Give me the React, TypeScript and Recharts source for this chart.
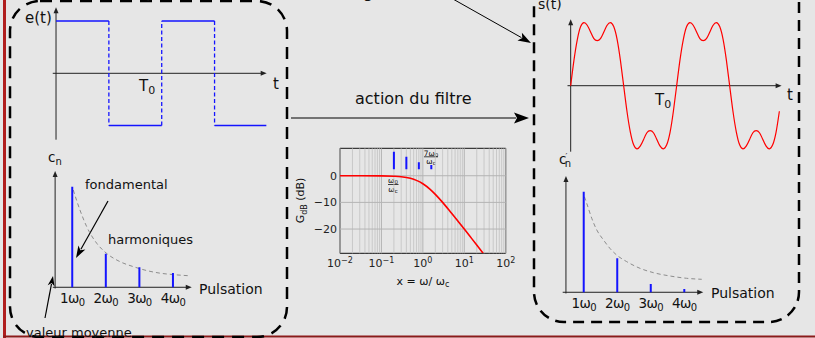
import React from 'react';
import { LineChart, ComposedChart, Line, XAxis, YAxis, ReferenceLine, ReferenceArea } from 'recharts';

const W = 815;
const H = 338;
const FONT = '"DejaVu Sans", sans-serif';
const BLUE = '#1414ff';
const RED = '#ff0000';
const AXIS = '#222222';

// ---------- e(t): square wave (t in units of T0) ----------
const squareEdges = [0, 0.5, 1, 1.5, 1.99];
const squareLevels = [1, -1, 1, -1];

// ---------- s(t): filtered signal (t in units of T0) ----------
const sT = [
  0, 0.031, 0.063, 0.094, 0.125, 0.156, 0.188, 0.219, 0.25, 0.281, 0.313, 0.344, 0.375, 0.406, 0.438, 0.469,
  0.5, 0.531, 0.563, 0.594, 0.625, 0.656, 0.688, 0.719, 0.75, 0.781, 0.813, 0.844, 0.875, 0.906, 0.938, 0.969,
  1, 1.031, 1.063, 1.094, 1.125, 1.156, 1.188, 1.219, 1.25, 1.281, 1.313, 1.344, 1.375, 1.406, 1.438, 1.469,
  1.5, 1.531, 1.563, 1.594, 1.625, 1.656, 1.688, 1.719, 1.75, 1.781, 1.813, 1.844, 1.875, 1.906, 1.938, 1.969,
];
const sV = [
  0, 0.38, 0.69, 0.88, 0.94, 0.9, 0.8, 0.7, 0.67, 0.7, 0.8, 0.9, 0.94, 0.88, 0.69, 0.38,
  0, -0.38, -0.69, -0.88, -0.94, -0.9, -0.8, -0.7, -0.67, -0.7, -0.8, -0.9, -0.94, -0.88, -0.69, -0.38,
  0, 0.38, 0.69, 0.88, 0.94, 0.9, 0.8, 0.7, 0.67, 0.7, 0.8, 0.9, 0.94, 0.88, 0.69, 0.38,
  0, -0.38, -0.69, -0.88, -0.94, -0.9, -0.8, -0.7, -0.67, -0.7, -0.8, -0.9, -0.94, -0.88, -0.69, -0.38,
];

// ---------- spectra ----------
const harmonicOrders = [1, 2, 3, 4];
const omegaTickLabels = ['1', '2', '3', '4'];
const cnAmplitudes = [1, 0.333, 0.2, 0.143];
const cnEnvelopeW = [1.03, 1.23, 1.43, 1.73, 2.02, 2.42, 2.82, 3.22, 3.62, 4.01, 4.51];
const cnEnvelopeV = [0.967, 0.768, 0.603, 0.437, 0.338, 0.255, 0.205, 0.166, 0.14, 0.126, 0.114];
const cpAmplitudes = [1, 0.338, 0.083, 0.033];
const cpEnvelopeW = [1.02, 1.09, 1.24, 1.39, 1.59, 1.78, 1.98, 2.28, 2.68, 3.08, 3.57, 4.07, 4.52];
const cpEnvelopeV = [0.95, 0.884, 0.735, 0.619, 0.52, 0.437, 0.371, 0.305, 0.238, 0.195, 0.162, 0.139, 0.129];

// ---------- Bode plot ----------
const bodeX = [0.01, 0.1, 0.2, 0.3, 0.5, 0.7, 1, 1.5, 2, 3, 5, 7, 10, 15, 20, 28.5];
const bodeDb = [0, -0.04, -0.17, -0.37, -0.97, -1.74, -3.0, -5.1, -7.0, -10.0, -14.2, -17.0, -20.0, -23.5, -26.0, -29.1];
const bodeHarmX = [0.2, 0.4, 0.8, 1.6];
const bodeHarmTop = [9.0, 7.1, 5.1, 4.0];
const bodeHarmBase = 2.4;
const bodeDecades = [0.01, 0.1, 1, 10, 100];
const bodeDecadeExp = ['\u22122', '\u22121', '0', '1', '2'];
const bodeMinorMult = [2, 3, 4, 5, 6, 7, 8, 9];
const bodeYTicks = [-20, -10, 0];
const bodeYDomain = [-29.1, 10.3];

// ---------- helpers ----------
const zip = (xs: number[], ys: number[]) => xs.map((x, i) => ({ x, y: ys[i] }));

const stemData = (xs: number[], tops: number[], base: number) => {
  const out: any[] = [];
  xs.forEach((x, i) => {
    out.push({ x, y: base });
    out.push({ x, y: tops[i] });
    out.push({ x, y: null });
  });
  return out;
};

const squareSolid = (() => {
  const out: any[] = [];
  squareLevels.forEach((lv, i) => {
    out.push({ x: squareEdges[i], y: lv });
    out.push({ x: squareEdges[i + 1], y: lv });
    out.push({ x: squareEdges[i + 1], y: null });
  });
  return out;
})();

const squareDashed = (() => {
  const out: any[] = [];
  for (let i = 1; i < squareLevels.length; i++) {
    out.push({ x: squareEdges[i], y: squareLevels[i - 1] });
    out.push({ x: squareEdges[i], y: squareLevels[i] });
    out.push({ x: squareEdges[i], y: null });
  }
  return out;
})();

const axisArrow = (head: number, half: number) => (p: any) => {
  const { x1, y1, x2, y2 } = p;
  const dx = x2 - x1;
  const dy = y2 - y1;
  const len = Math.hypot(dx, dy) || 1;
  const ux = dx / len;
  const uy = dy / len;
  const bx = x2 - ux * head;
  const by = y2 - uy * head;
  return (
    <g>
      <line x1={x1} y1={y1} x2={bx + ux} y2={by + uy} stroke={p.stroke} strokeWidth={p.strokeWidth} />
      <polygon
        points={`${x2},${y2} ${bx - uy * half},${by + ux * half} ${bx + uy * half},${by - ux * half}`}
        fill={p.stroke}
      />
    </g>
  );
};

const Arrow = ({ x1, y1, x2, y2, head = 12, half = 5, w = 1.2 }: any) => {
  const dx = x2 - x1;
  const dy = y2 - y1;
  const len = Math.hypot(dx, dy) || 1;
  const ux = dx / len;
  const uy = dy / len;
  const bx = x2 - ux * head;
  const by = y2 - uy * head;
  return (
    <g>
      <line x1={x1} y1={y1} x2={bx + ux * 2} y2={by + uy * 2} stroke="#000" strokeWidth={w} />
      <polygon
        points={`${x2},${y2} ${bx - uy * half},${by + ux * half} ${bx + ux * 3},${by + uy * 3} ${bx + uy * half},${by - ux * half}`}
        fill="#000"
      />
    </g>
  );
};

const OmegaTick = (p: any) => {
  const i = harmonicOrders.indexOf(p.payload.value);
  return (
    <text x={p.x} y={p.y + 11} textAnchor="middle" fontSize={13.5} fill="#111" fontFamily={FONT} letterSpacing={-0.6}>
      <tspan>{omegaTickLabels[i]}ω</tspan>
      <tspan dy={3} fontSize={10}>0</tspan>
    </text>
  );
};

const PowTick = (p: any) => {
  const i = bodeDecades.indexOf(p.payload.value);
  return (
    <text x={p.x} y={p.y + 14} textAnchor="middle" fontSize={11} fill="#222" fontFamily={FONT}>
      <tspan>10</tspan>
      <tspan dy={-4} fontSize={8}>{bodeDecadeExp[i]}</tspan>
    </text>
  );
};

const layer: React.CSSProperties = { position: 'absolute', left: 0, top: 0 };

// ---------- charts ----------
function EtChart() {
  return (
    <LineChart width={W} height={H} margin={{ left: 51.8, right: W - 267.4, top: 6.9, bottom: H - 139.7 }}>
      <XAxis type="number" dataKey="x" domain={[-0.04, 2]} hide allowDataOverflow />
      <YAxis type="number" dataKey="y" domain={[-1.27, 1.27]} hide allowDataOverflow />
      <ReferenceLine segment={[{ x: -0.031, y: 0 }, { x: 1.993, y: 0 }]} ifOverflow="visible" stroke={AXIS} strokeWidth={1} shape={axisArrow(6, 2.5)} />
      <ReferenceLine segment={[{ x: 0, y: -1.27 }, { x: 0, y: 1.262 }]} ifOverflow="visible" stroke={AXIS} strokeWidth={1} shape={axisArrow(6, 2.5)} />
      <Line data={squareSolid} dataKey="y" stroke={BLUE} strokeWidth={1.5} dot={false} isAnimationActive={false} />
      <Line data={squareDashed} dataKey="y" stroke={BLUE} strokeWidth={1.3} strokeDasharray="4 2.5" dot={false} isAnimationActive={false} />
    </LineChart>
  );
}

function StChart() {
  return (
    <LineChart width={W} height={H} margin={{ left: 567.5, right: W - 781.6, top: 18.5, bottom: H - 152.9 }}>
      <XAxis type="number" dataKey="x" domain={[-0.03, 1.99]} hide allowDataOverflow />
      <YAxis type="number" dataKey="y" domain={[-1, 1]} hide allowDataOverflow />
      <ReferenceLine segment={[{ x: -0.03, y: 0 }, { x: 1.99, y: 0 }]} ifOverflow="visible" stroke={AXIS} strokeWidth={1} shape={axisArrow(6, 2.5)} />
      <ReferenceLine segment={[{ x: 0, y: -0.982 }, { x: 0, y: 0.99 }]} ifOverflow="visible" stroke={AXIS} strokeWidth={1} shape={axisArrow(6, 2.5)} />
      <Line data={zip(sT, sV)} dataKey="y" type="natural" stroke={RED} strokeWidth={1.2} dot={false} isAnimationActive={false} />
    </LineChart>
  );
}

function SpectrumChart({ margin, xDomain, xAxisFrom, xAxisTo, yAxisAt, amps, envW, envV }: any) {
  return (
    <ComposedChart width={W} height={H} margin={margin}>
      <XAxis
        type="number"
        dataKey="x"
        domain={xDomain}
        allowDataOverflow
        ticks={harmonicOrders}
        tick={<OmegaTick />}
        axisLine={false}
        tickLine={false}
        tickSize={0}
        tickMargin={0}
        height={20}
        interval={0}
      />
      <YAxis type="number" dataKey="y" domain={[-0.05, 1.16]} hide allowDataOverflow />
      <ReferenceLine segment={[{ x: xAxisFrom, y: 0 }, { x: xAxisTo, y: 0 }]} ifOverflow="visible" stroke={AXIS} strokeWidth={1} shape={axisArrow(6, 2.5)} />
      <ReferenceLine segment={[{ x: yAxisAt, y: -0.012 }, { x: yAxisAt, y: 1.155 }]} ifOverflow="visible" stroke={AXIS} strokeWidth={1} shape={axisArrow(6, 2.5)} />
      <Line data={zip(envW, envV)} dataKey="y" type="monotone" stroke="#8c8c8c" strokeWidth={1} strokeDasharray="4 3" dot={false} isAnimationActive={false} />
      <Line data={stemData(harmonicOrders, amps, 0)} dataKey="y" stroke={BLUE} strokeWidth={2} dot={false} isAnimationActive={false} />
    </ComposedChart>
  );
}

function BodeChart() {
  const minor: number[] = [];
  bodeDecades.slice(0, 4).forEach((d) => bodeMinorMult.forEach((m) => minor.push(d * m)));
  return (
    <ComposedChart width={W} height={H} margin={{ left: 300, right: 309.3, top: 148.3, bottom: 64.7 }}>
      <XAxis
        type="number"
        dataKey="x"
        scale="log"
        domain={[0.01, 100]}
        allowDataOverflow
        ticks={bodeDecades}
        interval={0}
        tick={<PowTick />}
        axisLine={false}
        tickLine={false}
        tickSize={0}
        tickMargin={0}
        height={20}
      />
      <YAxis
        type="number"
        dataKey="y"
        domain={bodeYDomain}
        allowDataOverflow
        ticks={bodeYTicks}
        interval={0}
        width={40}
        axisLine={false}
        tickLine={false}
        tickSize={0}
        tickMargin={3}
        tick={{ fontSize: 11, fill: '#222', fontFamily: FONT }}
        tickFormatter={(v: number) => String(v).replace('-', '\u2212')}
      />
      {minor.map((v) => (
        <ReferenceLine key={'m' + v} x={v} stroke="#c2c2c2" strokeWidth={0.8} />
      ))}
      {bodeDecades.map((v) => (
        <ReferenceLine key={'M' + v} x={v} stroke="#b4b4b4" strokeWidth={1} />
      ))}
      {bodeYTicks.map((v) => (
        <ReferenceLine key={'y' + v} y={v} stroke="#b4b4b4" strokeWidth={1} />
      ))}
      <Line data={zip(bodeX, bodeDb)} dataKey="y" type="monotone" stroke={RED} strokeWidth={1.6} dot={false} isAnimationActive={false} />
      <Line data={stemData(bodeHarmX, bodeHarmTop, bodeHarmBase)} dataKey="y" stroke={BLUE} strokeWidth={2} dot={false} isAnimationActive={false} />
      <ReferenceArea x1={0.01} x2={100} y1={bodeYDomain[0]} y2={bodeYDomain[1]} ifOverflow="visible" fill="none" stroke="#111" strokeWidth={1} />
    </ComposedChart>
  );
}

function Decor() {
  const txt = { fontFamily: FONT, fill: '#111' } as any;
  return (
    <svg width={W} height={H} style={layer}>
      {/* frame lines */}
      <rect x={3} y={0} width={3} height={H} fill="#b01e1e" />
      <rect x={3} y={335.5} width={W - 3} height={2} fill="#8c1a1a" />
      {/* dashed boxes */}
      <rect x={10} y={1} width={277} height={336} rx={30} fill="none" stroke="#000" strokeWidth={2.5} strokeDasharray="12 8" />
      <rect x={534} y={-28} width={265} height={350} rx={30} fill="none" stroke="#000" strokeWidth={2.5} strokeDasharray="11 7" />
      {/* cut-off title glyphs */}
      <text x={146} y={-2} fontSize={16} {...txt}>p</text>
      <text x={363} y={-2} fontSize={16} {...txt}>g</text>
      {/* arrows */}
      <Arrow x1={291} y1={118} x2={529} y2={118} head={15} half={5.5} w={1.2} />
      <Arrow x1={437} y1={-10} x2={531} y2={43} head={13} half={4.5} w={1} />
      <Arrow x1={108} y1={201} x2={76} y2={258} head={12} half={4} w={1.2} />
      <Arrow x1={45} y1={318} x2={53} y2={276} head={10} half={3.5} w={1.2} />
      {/* left labels */}
      <text x={25} y={23} fontSize={15} {...txt}>e(t)</text>
      <text x={273} y={89} fontSize={15} {...txt}>t</text>
      <text x={139} y={91} fontSize={15} {...txt}>T<tspan dy={3} fontSize={11}>0</tspan></text>
      <text x={48} y={162} fontSize={13.5} {...txt}>c<tspan dy={3} fontSize={10}>n</tspan></text>
      <text x={85} y={189} fontSize={13} {...txt}>fondamental</text>
      <text x={108} y={244} fontSize={13} {...txt}>harmoniques</text>
      <text x={199} y={293.5} fontSize={14} {...txt}>Pulsation</text>
      <text x={26} y={336.5} fontSize={13} {...txt}>valeur moyenne</text>
      {/* middle */}
      <text x={355} y={104} fontSize={16} {...txt}>action du filtre</text>
      <text x={0} y={0} fontSize={11} {...txt} transform="translate(304,200.5) rotate(-90)" textAnchor="middle">
        G<tspan dy={2.5} fontSize={8}>dB</tspan><tspan dy={-2.5}>{'  (dB)'}</tspan>
      </text>
      <text x={423} y={285} fontSize={11} textAnchor="middle" {...txt}>
        x = ω/ ω<tspan dy={2} fontSize={8}>c</tspan>
      </text>
      <g fontSize={7.5} fontFamily={FONT} fill="#111" textAnchor="middle">
        <text x={393} y={183}>ω<tspan dy={1} fontSize={5.5}>0</tspan></text>
        <line x1={388} x2={398.5} y1={184.5} y2={184.5} stroke="#111" strokeWidth={0.8} />
        <text x={393} y={191.5}>ω<tspan dy={1} fontSize={5.5}>c</tspan></text>
        <text x={431} y={155.5}>7ω<tspan dy={1} fontSize={5.5}>0</tspan></text>
        <line x1={424} x2={438} y1={156.8} y2={156.8} stroke="#111" strokeWidth={0.8} />
        <text x={431} y={164}>ω<tspan dy={1} fontSize={5.5}>c</tspan></text>
      </g>
      {/* right labels */}
      <text x={538} y={9} fontSize={14} {...txt}>s(t)</text>
      <text x={787} y={100} fontSize={15} {...txt}>t</text>
      <text x={655} y={105} fontSize={15} {...txt}>T<tspan dy={3} fontSize={11}>0</tspan></text>
      <text x={559} y={164} fontSize={13.5} {...txt}>
        c<tspan dx={-1} dy={-4} fontSize={8}>′</tspan><tspan dx={-2.5} dy={7} fontSize={10}>n</tspan>
      </text>
      <text x={711} y={297.5} fontSize={14} {...txt}>Pulsation</text>
    </svg>
  );
}

export default function App() {
  return (
    <div style={{ position: 'absolute', left: 0, top: 0, width: W, height: H, background: '#e6e6e6', overflow: 'hidden', fontFamily: FONT }}>
      <Decor />
      <div style={layer}><EtChart /></div>
      <div style={layer}><StChart /></div>
      <div style={layer}>
        <SpectrumChart
          margin={{ left: 52.1, right: W - 193.1, top: 170.6, bottom: H - 292.3 - 20 }}
          xDomain={[0.4, 4.6]}
          xAxisFrom={0.42}
          xAxisTo={4.56}
          yAxisAt={0.49}
          amps={cnAmplitudes}
          envW={cnEnvelopeW}
          envV={cnEnvelopeV}
        />
      </div>
      <div style={layer}>
        <SpectrumChart
          margin={{ left: 562.6, right: W - 703.4, top: 175.6, bottom: H - 297.3 - 20 }}
          xDomain={[0.37, 4.57]}
          xAxisFrom={0.373}
          xAxisTo={4.566}
          yAxisAt={0.47}
          amps={cpAmplitudes}
          envW={cpEnvelopeW}
          envV={cpEnvelopeV}
        />
      </div>
      <div style={layer}><BodeChart /></div>
    </div>
  );
}
